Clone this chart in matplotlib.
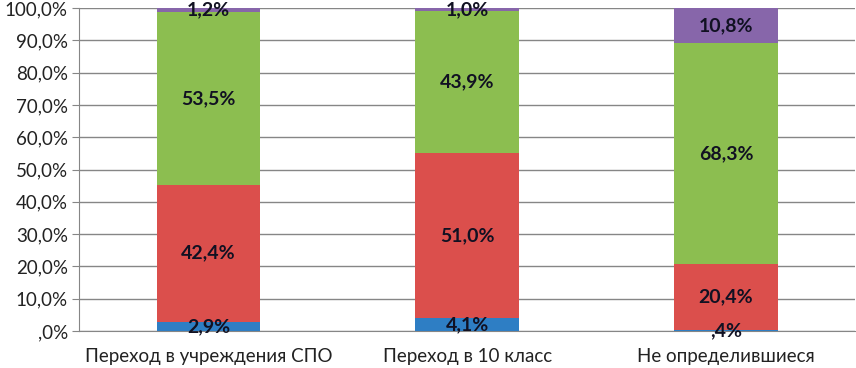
import matplotlib.pyplot as plt
import numpy as np

plt.rcParams['font.family'] = ['Lato', 'DejaVu Sans']

categories = ["Переход в учреждения СПО", "Переход в 10 класс", "Не определившиеся"]
blue = [2.9, 4.1, 0.4]
red = [42.4, 51.0, 20.4]
green = [53.5, 43.9, 68.3]
purple = [1.2, 1.0, 10.8]
yticks = [0, 10, 20, 30, 40, 50, 60, 70, 80, 90, 100]

series = [blue, red, green, purple]
colors = ['#2E7EC4', '#DB4F4C', '#8CBE50', '#8766AA']


def fmt(v):
    s = f"{v:.1f}".replace('.', ',')
    if s.startswith('0'):
        s = s[1:]
    return s + '%'


fig = plt.figure(figsize=(8.56, 3.68), dpi=100)
ax = fig.add_axes([0.0923, 0.1005, 0.907, 0.8775])

x = np.arange(len(categories))
bottom = np.zeros(len(categories))
for vals, c in zip(series, colors):
    ax.bar(x, vals, bottom=bottom, width=0.4, color=c, zorder=3)
    for xi, b, v in zip(x, bottom, vals):
        ax.text(xi, b + v / 2, fmt(v), ha='center', va='center',
                fontsize=14, fontweight='bold', color='#111122', zorder=4)
    bottom += np.array(vals)

ax.set_xlim(-0.5, len(categories) - 0.5)
ax.set_ylim(0, 100)
ax.set_yticks(yticks)
ax.set_yticklabels([fmt(t) for t in yticks], fontsize=13.5, color='#222222')
ax.set_xticks(x)
ax.set_xticklabels(categories, fontsize=13.5, color='#222222')
ax.tick_params(axis='x', length=0, pad=12)
ax.tick_params(axis='y', length=5, color='#868686', pad=3)
ax.yaxis.grid(True, color='#868686', linewidth=1, zorder=0)
for s in ['top', 'right']:
    ax.spines[s].set_visible(False)
ax.spines['left'].set_color('#868686')
ax.spines['bottom'].set_color('#868686')

fig.savefig('out.png', dpi=100)
